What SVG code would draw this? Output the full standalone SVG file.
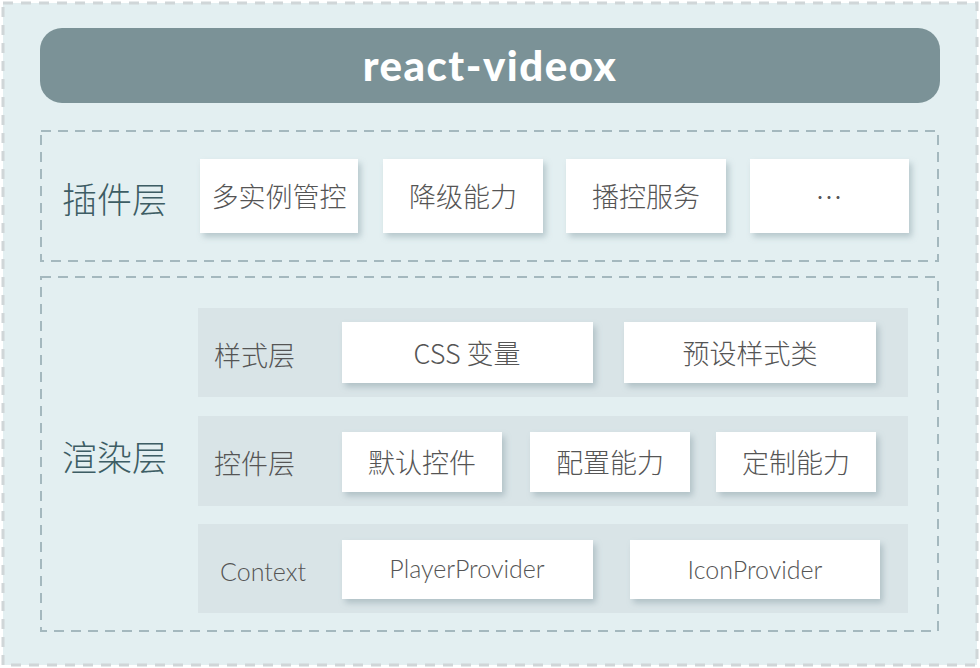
<svg xmlns="http://www.w3.org/2000/svg" width="980" height="668" viewBox="0 0 980 668">
<defs>
<filter id="sh" x="-10%" y="-20%" width="130%" height="150%">
<feDropShadow dx="3" dy="4" stdDeviation="3" flood-color="#7f969d" flood-opacity="0.45"/>
</filter>
<style>
.box{fill:#ffffff;filter:url(#sh)}
.row{fill:#d9e4e7}
.t{font-family:"Noto Sans CJK SC","Noto Sans",sans-serif;font-size:27px;font-weight:300;fill:#555555;text-anchor:middle;dominant-baseline:central}
.lt{font-family:Lato,"Noto Sans CJK SC",sans-serif;font-size:25px;font-weight:300;fill:#555555;text-anchor:middle;dominant-baseline:central}
.rl{font-family:"Noto Sans CJK SC",sans-serif;font-size:27px;font-weight:300;fill:#555555;dominant-baseline:central}
.big{font-family:"Noto Sans CJK SC",sans-serif;font-size:35px;font-weight:300;fill:#3d5d64;dominant-baseline:central}
.dash{fill:none;stroke:#a4b8be;stroke-width:2;stroke-dasharray:10 7}
</style>
</defs>
<g id="background">
<rect x="3" y="3" width="974" height="662" fill="#e3eff1" stroke="#d0d6d8" stroke-width="3" stroke-dasharray="10 8"/>
</g>
<g id="header">
<rect x="40" y="28" width="900" height="75" rx="22" fill="#7b9297"/>
<text x="490" y="65" font-family="Lato,sans-serif" font-weight="900" font-size="42" letter-spacing="1.5" fill="#ffffff" text-anchor="middle" dominant-baseline="central">react-videox</text>
</g>
<g id="plugin-layer">
<rect class="dash" x="41" y="131" width="897" height="130"/>
<text class="big" x="62" y="197">插件层</text>
</g>
<g id="plugin-multi"><rect class="box" x="200" y="159" width="158" height="74"/><text class="t" x="279" y="195">多实例管控</text></g>
<g id="plugin-downgrade"><rect class="box" x="383" y="159" width="160" height="74"/><text class="t" x="463" y="195">降级能力</text></g>
<g id="plugin-playctl"><rect class="box" x="566" y="159" width="160" height="74"/><text class="t" x="646" y="195">播控服务</text></g>
<g id="plugin-more"><rect class="box" x="750" y="159" width="159" height="74"/><text class="t" x="829" y="196">…</text></g>
<g id="render-layer">
<rect class="dash" x="41" y="277" width="897" height="354"/>
<text class="big" x="62" y="455">渲染层</text>
</g>
<g id="style-row">
<rect class="row" x="198" y="308" width="710" height="89"/>
<text class="rl" x="214" y="354">样式层</text>
</g>
<g id="css-var"><rect class="box" x="342" y="322" width="251" height="61"/><text class="t" x="467" y="352">CSS 变量</text></g>
<g id="preset-style"><rect class="box" x="624" y="322" width="252" height="61"/><text class="t" x="750" y="352">预设样式类</text></g>
<g id="control-row">
<rect class="row" x="198" y="416" width="710" height="90"/>
<text class="rl" x="214" y="462">控件层</text>
</g>
<g id="default-ctl"><rect class="box" x="342" y="432" width="160" height="60"/><text class="t" x="422" y="461">默认控件</text></g>
<g id="config-ctl"><rect class="box" x="530" y="432" width="160" height="60"/><text class="t" x="610" y="461">配置能力</text></g>
<g id="custom-ctl"><rect class="box" x="716" y="432" width="160" height="60"/><text class="t" x="796" y="461">定制能力</text></g>
<g id="context-row">
<rect class="row" x="198" y="524" width="710" height="89"/>
<text class="lt" x="263" y="571" font-size="26">Context</text>
</g>
<g id="player-provider"><rect class="box" x="342" y="540" width="251" height="59"/><text class="lt" x="467" y="568">PlayerProvider</text></g>
<g id="icon-provider"><rect class="box" x="630" y="540" width="250" height="59"/><text class="lt" x="755" y="569">IconProvider</text></g>
<g id="connectors"></g>
</svg>
